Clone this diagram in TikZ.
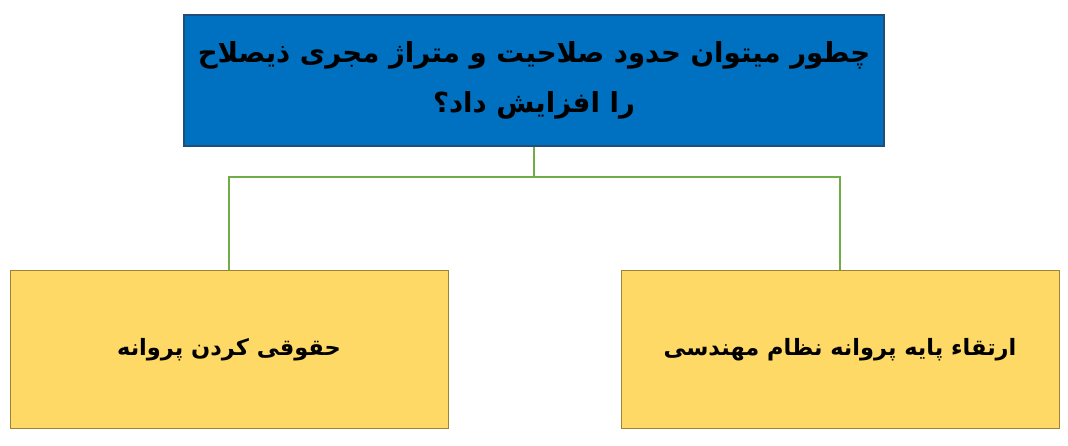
\documentclass[tikz,border=0pt]{standalone}
\usepackage{fontspec}
\TeXXeTstate=1
\newfontfamily\arabicfont[Script=Arabic]{DejaVu Sans}
\definecolor{topblue}{HTML}{0070C0}
\definecolor{topedge}{HTML}{1F4E79}
\definecolor{boxyellow}{HTML}{FFD966}
\definecolor{boxedge}{HTML}{9C8336}
\definecolor{linkgreen}{HTML}{70AD47}
\tikzset{
  topbox/.style={draw=topedge, line width=1.2pt, fill=topblue, inner sep=0pt,
    minimum width=700pt, minimum height=131pt, align=center,
    font=\arabicfont\bfseries\fontsize{27.6}{50}\selectfont},
  subbox/.style={draw=boxedge, line width=1pt, fill=boxyellow, inner sep=0pt,
    minimum width=438pt, minimum height=157pt, align=center,
    font=\arabicfont\bfseries\fontsize{22.5}{26}\selectfont},
  link/.style={draw=linkgreen, line width=1.4pt}
}
\begin{document}
\begin{tikzpicture}[x=1pt,y=-1pt]
\useasboundingbox (0,0) rectangle (1068,446);
\node[topbox] (top) at (534,80.5) {\beginR چطور میتوان حدود صلاحیت و متراژ مجری ذیصلاح\endR\\\beginR را افزایش داد؟\endR};
\node[subbox] (left) at (229,349.5) {\beginR حقوقی کردن پروانه\endR};
\node[subbox] (right) at (840,349.5) {\beginR ارتقاء پایه پروانه نظام مهندسی\endR};
\coordinate (j) at (534,177);
\draw[link] (top.south) -- (top.south |- j) -| (left.north);
\draw[link] (top.south |- j) -| (right.north);
\end{tikzpicture}
\end{document}
